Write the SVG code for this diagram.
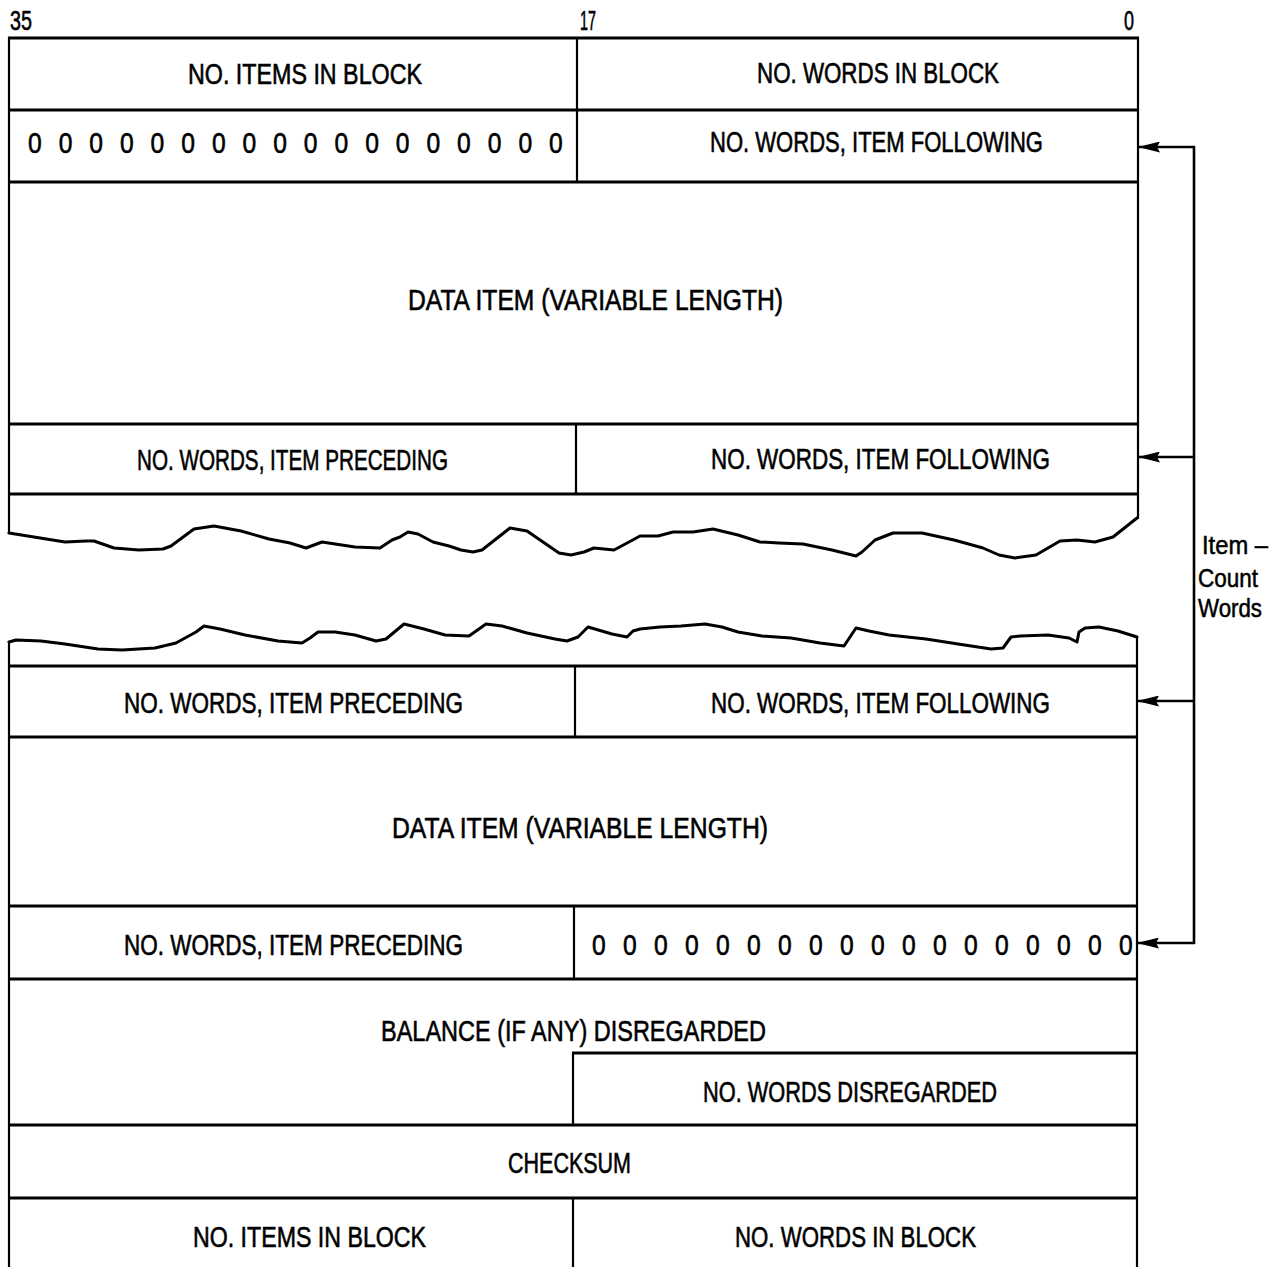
<svg xmlns="http://www.w3.org/2000/svg" width="1285" height="1267" viewBox="0 0 1285 1267">
<style>
  .bg { fill: #ffffff; }
  .h { stroke: #000; stroke-width: 3; fill: none; }
  .v { stroke: #000; stroke-width: 2.2; fill: none; }
  .wave { stroke: #000; stroke-width: 3; fill: none; stroke-linejoin: round; stroke-linecap: round; }
  .conn { stroke: #000; stroke-width: 2.6; fill: none; }
  .lbl { font-family: 'Liberation Sans Narrow', 'Liberation Sans', Arial, sans-serif; font-size: 29px; fill: #000; stroke: #000; stroke-width: 0.6; }
  .hdr { font-family: 'Liberation Sans Narrow', 'Liberation Sans', Arial, sans-serif; font-size: 28px; fill: #000; stroke: #000; stroke-width: 0.6; }
  .side { font-family: 'Liberation Sans Narrow', 'Liberation Sans', Arial, sans-serif; font-size: 25px; fill: #000; stroke: #000; stroke-width: 0.5; }
</style>
<defs>
  <marker id="arr" viewBox="0 0 22 11" refX="21" refY="5.5" markerWidth="22" markerHeight="11" markerUnits="userSpaceOnUse" orient="auto">
    <path d="M0,0 L22,5.5 L0,11 L3,5.5 z" fill="#000"/>
  </marker>
</defs>
<rect class="bg" x="0" y="0" width="1285" height="1267"/>

<g id="bit-numbers">
  <text class="hdr" x="10" y="30" textLength="22" lengthAdjust="spacingAndGlyphs">35</text>
  <text class="hdr" x="580" y="30" textLength="16" lengthAdjust="spacingAndGlyphs">17</text>
  <text class="hdr" x="1124" y="30" textLength="10" lengthAdjust="spacingAndGlyphs">0</text>
</g>

<g id="frame">
  <!-- upper block -->
  <line class="h" x1="8" y1="38" x2="1139" y2="38"/>
  <line class="h" x1="8" y1="110" x2="1139" y2="110"/>
  <line class="h" x1="8" y1="182" x2="1139" y2="182"/>
  <line class="h" x1="8" y1="424" x2="1139" y2="424"/>
  <line class="h" x1="8" y1="494" x2="1139" y2="494"/>
  <line class="v" x1="9" y1="37" x2="9" y2="534"/>
  <line class="v" x1="1138" y1="37" x2="1138" y2="519"/>
  <line class="v" x1="577" y1="38" x2="577" y2="182"/>
  <line class="v" x1="576" y1="424" x2="576" y2="494"/>
  <polyline class="wave" points="9,533 65,542 86,541 94,541 114,548 139,550 163,549 171,546 194,529 214,526 241,531 269,539 290,543 306,548 322,542 355,547 380,548 392,540 400,537 408,532 418,534 433,542 449,546 461,550 473,552 482,550 510,528 527,531 543,542 559,553 571,555 584,552 594,548 614,550 629,542 640,536 658,536 673,532 693,532 713,529 738,535 760,542 779,543 803,544 832,550 856,556 862,552 875,540 893,533 922,533 954,540 983,548 999,555 1015,558 1036,555 1060,541 1077,540 1095,542 1113,537 1137,518"/>
  <!-- lower block -->
  <polyline class="wave" points="9,642 16,640 41,641 65,644 98,649 122,650 155,648 176,643 196,632 204,626 220,629 245,635 278,641 302,643 310,638 318,632 335,632 355,635 376,641 386,639 404,624 424,629 445,635 469,636 486,624 502,626 527,633 555,639 567,641 578,637 588,627 612,634 627,637 633,631 640,629 660,627 681,626 705,624 722,627 738,632 762,636 791,638 820,643 844,646 856,628 869,631 889,635 926,639 958,644 991,649 1003,648 1011,637 1020,636 1048,635 1069,638 1077,642 1079,632 1085,628 1099,627 1118,631 1137,637"/>
  <line class="v" x1="9" y1="642" x2="9" y2="1267"/>
  <line class="v" x1="1137" y1="637" x2="1137" y2="1267"/>
  <line class="h" x1="8" y1="666" x2="1138" y2="666"/>
  <line class="h" x1="8" y1="737" x2="1138" y2="737"/>
  <line class="h" x1="8" y1="906" x2="1138" y2="906"/>
  <line class="h" x1="8" y1="979" x2="1138" y2="979"/>
  <line class="h" x1="572" y1="1053" x2="1138" y2="1053"/>
  <line class="h" x1="8" y1="1125" x2="1138" y2="1125"/>
  <line class="h" x1="8" y1="1198" x2="1138" y2="1198"/>
  <line class="v" x1="575" y1="666" x2="575" y2="737"/>
  <line class="v" x1="574" y1="906" x2="574" y2="979"/>
  <line class="v" x1="573" y1="1053" x2="573" y2="1125"/>
  <line class="v" x1="573" y1="1198" x2="573" y2="1267"/>
</g>

<g id="n-items-top"><text class="lbl" x="188" y="84" textLength="234" lengthAdjust="spacingAndGlyphs">NO. ITEMS IN BLOCK</text></g>
<g id="n-words-top"><text class="lbl" x="757" y="83" textLength="242" lengthAdjust="spacingAndGlyphs">NO. WORDS IN BLOCK</text></g>
<g id="zeros-top"><text class="lbl" transform="scale(0.85 1)" y="153" x="32.94 69 105.06 141.12 177.18 213.24 249.3 285.36 321.42 357.48 393.54 429.6 465.66 501.72 537.78 573.84 609.9 645.96">000000000000000000</text></g>
<g id="following-1"><text class="lbl" x="710" y="152" textLength="333" lengthAdjust="spacingAndGlyphs">NO. WORDS, ITEM FOLLOWING</text></g>
<g id="data-1"><text class="lbl" x="408" y="310" textLength="375" lengthAdjust="spacingAndGlyphs">DATA ITEM (VARIABLE LENGTH)</text></g>
<g id="preceding-1"><text class="lbl" x="137" y="470" textLength="311" lengthAdjust="spacingAndGlyphs">NO. WORDS, ITEM PRECEDING</text></g>
<g id="following-2"><text class="lbl" x="711" y="469" textLength="339" lengthAdjust="spacingAndGlyphs">NO. WORDS, ITEM FOLLOWING</text></g>
<g id="preceding-2"><text class="lbl" x="124" y="713" textLength="339" lengthAdjust="spacingAndGlyphs">NO. WORDS, ITEM PRECEDING</text></g>
<g id="following-3"><text class="lbl" x="711" y="713" textLength="339" lengthAdjust="spacingAndGlyphs">NO. WORDS, ITEM FOLLOWING</text></g>
<g id="data-2"><text class="lbl" x="392" y="838" textLength="376" lengthAdjust="spacingAndGlyphs">DATA ITEM (VARIABLE LENGTH)</text></g>
<g id="preceding-3"><text class="lbl" x="124" y="955" textLength="339" lengthAdjust="spacingAndGlyphs">NO. WORDS, ITEM PRECEDING</text></g>
<g id="zeros-bottom"><text class="lbl" transform="scale(0.85 1)" y="955" x="696.47 732.94 769.41 805.88 842.35 878.82 915.29 951.76 988.23 1024.7 1061.17 1097.64 1134.11 1170.58 1207.05 1243.52 1279.99 1316.46">000000000000000000</text></g>
<g id="balance"><text class="lbl" x="381" y="1041" textLength="385" lengthAdjust="spacingAndGlyphs">BALANCE (IF ANY) DISREGARDED</text></g>
<g id="disregarded"><text class="lbl" x="703" y="1102" textLength="294" lengthAdjust="spacingAndGlyphs">NO. WORDS DISREGARDED</text></g>
<g id="checksum"><text class="lbl" x="508" y="1173" textLength="123" lengthAdjust="spacingAndGlyphs">CHECKSUM</text></g>
<g id="n-items-bottom"><text class="lbl" x="193" y="1247" textLength="233" lengthAdjust="spacingAndGlyphs">NO. ITEMS IN BLOCK</text></g>
<g id="n-words-bottom"><text class="lbl" x="735" y="1247" textLength="241" lengthAdjust="spacingAndGlyphs">NO. WORDS IN BLOCK</text></g>

<g id="connectors">
  <line class="conn" x1="1194" y1="146" x2="1194" y2="944"/>
  <line class="conn" x1="1195" y1="147" x2="1139" y2="147" marker-end="url(#arr)"/>
  <line class="conn" x1="1195" y1="457" x2="1139" y2="457" marker-end="url(#arr)"/>
  <line class="conn" x1="1195" y1="701" x2="1138" y2="701" marker-end="url(#arr)"/>
  <line class="conn" x1="1195" y1="943" x2="1138" y2="943" marker-end="url(#arr)"/>
</g>

<g id="item-count-label">
  <text class="side" x="1202" y="554" textLength="66" lengthAdjust="spacingAndGlyphs">Item –</text>
  <text class="side" x="1198" y="587" textLength="60" lengthAdjust="spacingAndGlyphs">Count</text>
  <text class="side" x="1198" y="617" textLength="64" lengthAdjust="spacingAndGlyphs">Words</text>
</g>
</svg>
